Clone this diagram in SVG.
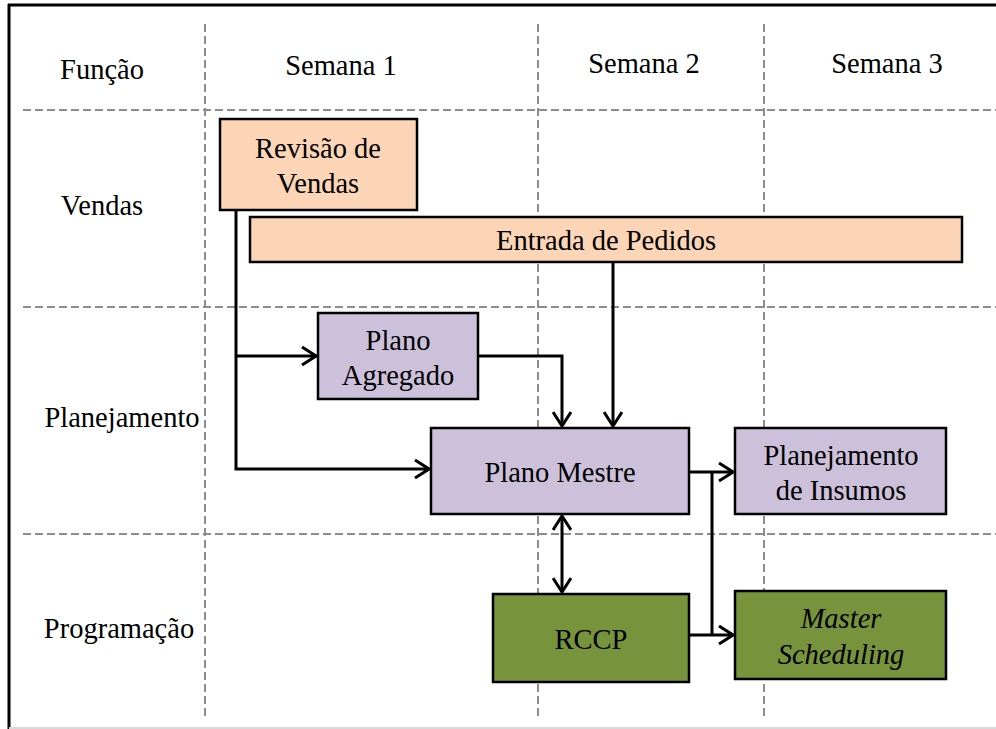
<svg xmlns="http://www.w3.org/2000/svg" width="996" height="729" viewBox="0 0 996 729">
<style>
.grid{stroke:#8c8c8c;stroke-width:2;stroke-dasharray:8,4;fill:none}
.box{stroke:#000;stroke-width:2.5}
.peach{fill:#FBD5B5}
.lilac{fill:#CCC0DA}
.green{fill:#77933C}
.t{font-family:"Liberation Serif","Times New Roman",serif;font-size:28.5px;fill:#000;text-anchor:middle}
.it{font-style:italic}
.conn{fill:none;stroke:#000;stroke-width:3}
</style>
<defs>
<marker id="arr" viewBox="0 0 16 20" refX="15" refY="10" markerWidth="16" markerHeight="20" markerUnits="userSpaceOnUse" orient="auto-start-reverse">
<path d="M1,1 L15,10 L1,19" fill="none" stroke="#000" stroke-width="3"/>
</marker>
</defs>
<rect width="996" height="729" fill="#fff"/>
<g id="frame">
<line x1="8" y1="5" x2="996" y2="5" stroke="#000" stroke-width="3"/>
<line x1="9" y1="4" x2="9" y2="729" stroke="#000" stroke-width="3"/>
<line x1="9" y1="728" x2="996" y2="728" stroke="#d9d9d9" stroke-width="2"/>
</g>
<g id="grid">
<line class="grid" x1="205" y1="24" x2="205" y2="716"/>
<line class="grid" x1="538" y1="24" x2="538" y2="716"/>
<line class="grid" x1="764" y1="24" x2="764" y2="716"/>
<line class="grid" x1="23" y1="110" x2="996" y2="110"/>
<line class="grid" x1="23" y1="307" x2="996" y2="307"/>
<line class="grid" x1="23" y1="534" x2="996" y2="534"/>
</g>
<g id="labels">
<text class="t" x="102" y="79">Função</text>
<text class="t" x="341" y="75">Semana 1</text>
<text class="t" x="644" y="73">Semana 2</text>
<text class="t" x="887" y="73">Semana 3</text>
<text class="t" x="102" y="215">Vendas</text>
<text class="t" x="122" y="427">Planejamento</text>
<text class="t" x="119" y="638">Programação</text>
</g>
<g id="connectors">
<path class="conn" d="M236,210 V469 H429" marker-end="url(#arr)"/>
<path class="conn" d="M236,356 H316" marker-end="url(#arr)"/>
<path class="conn" d="M478,356 H562 V426" marker-end="url(#arr)"/>
<path class="conn" d="M613,262 V426" marker-end="url(#arr)"/>
<path class="conn" d="M689,472 H733" marker-end="url(#arr)"/>
<path class="conn" d="M712,472 V635"/>
<path class="conn" d="M689,635 H733" marker-end="url(#arr)"/>
<path class="conn" d="M562,516 V592" marker-start="url(#arr)" marker-end="url(#arr)"/>
</g>
<g id="revisao">
<rect class="box peach" x="220" y="119" width="197" height="91"/>
<text class="t" x="318" y="158">Revisão de</text>
<text class="t" x="318" y="193">Vendas</text>
</g>
<g id="entrada">
<rect class="box peach" x="250" y="217" width="712" height="45"/>
<text class="t" x="606" y="250">Entrada de Pedidos</text>
</g>
<g id="agregado">
<rect class="box lilac" x="318" y="313" width="160" height="86"/>
<text class="t" x="398" y="350">Plano</text>
<text class="t" x="398" y="385">Agregado</text>
</g>
<g id="mestre">
<rect class="box lilac" x="431" y="428" width="258" height="86"/>
<text class="t" x="560" y="482">Plano Mestre</text>
</g>
<g id="insumos">
<rect class="box lilac" x="735" y="428" width="211" height="86"/>
<text class="t" x="841" y="465">Planejamento</text>
<text class="t" x="841" y="500">de Insumos</text>
</g>
<g id="rccp">
<rect class="box green" x="493" y="594" width="196" height="88"/>
<text class="t" x="591" y="649">RCCP</text>
</g>
<g id="master">
<rect class="box green" x="735" y="591" width="211" height="88"/>
<text class="t it" x="841" y="628">Master</text>
<text class="t it" x="841" y="664">Scheduling</text>
</g>
</svg>
